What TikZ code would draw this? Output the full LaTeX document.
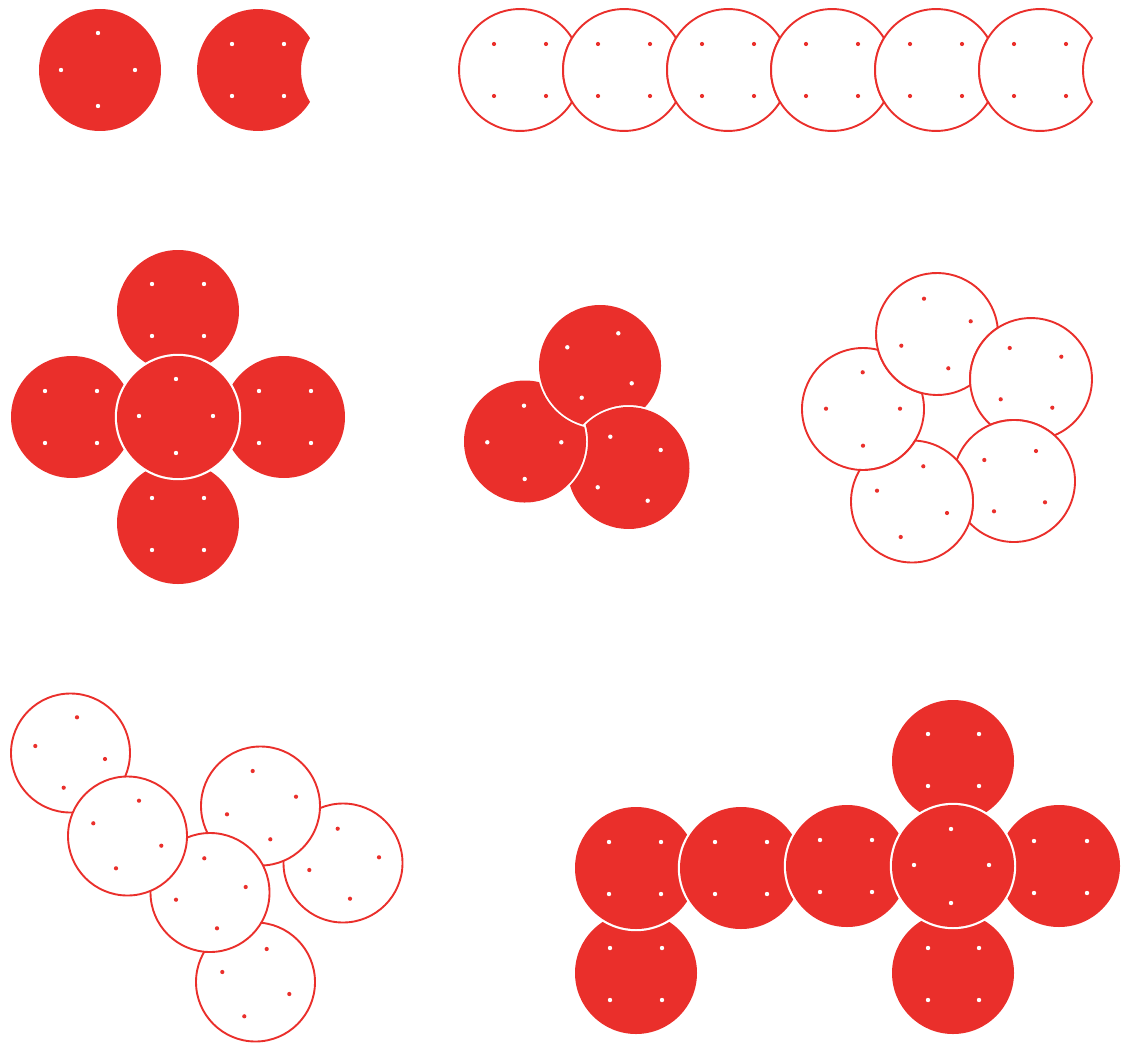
\documentclass[tikz,border=0pt]{standalone}
\definecolor{lego}{RGB}{234,47,43}
\tikzset{
  redp/.style={fill=lego},
  outl/.style={draw=lego, line width=1.9pt, fill=white},
}
% bitten disc: #1 style, (#2,#3) centre, #4 radius, (#5,#6) centre of bite, #7 bite radius
\newcommand{\bitten}[7]{%
  \pgfmathsetmacro{\bdx}{(#5-(#2))/10}%
  \pgfmathsetmacro{\bdy}{(#6-(#3))/10}%
  \pgfmathsetmacro{\bd}{sqrt(\bdx*\bdx+\bdy*\bdy)}%
  \pgfmathsetmacro{\bphi}{atan2(\bdy,\bdx)}%
  \pgfmathsetmacro{\bth}{acos((\bd*\bd+(#4/10)^2-(#7/10)^2)/(2*\bd*#4/10))}%
  \pgfmathsetmacro{\bal}{acos((\bd*\bd+(#7/10)^2-(#4/10)^2)/(2*\bd*#7/10))}%
  \path[#1] (#2,#3) ++(\bphi+\bth:#4)
    arc[start angle=\bphi+\bth, end angle=\bphi+360-\bth, radius=#4]
    arc[start angle=\bphi+180+\bal, end angle=\bphi+180-\bal, radius=#7] -- cycle;
}
\newcommand{\wspots}[1]{\foreach \sx/\sy in {#1} \fill[white] (\sx,\sy) circle[radius=2.2];}
\newcommand{\rspots}[1]{\foreach \sx/\sy in {#1} \fill[lego] (\sx,\sy) circle[radius=2.1];}
\newcommand{\ringdisc}[2]{\fill[white] (#1,#2) circle[radius=63.2]; \fill[lego] (#1,#2) circle[radius=61];}

\begin{document}
\begin{tikzpicture}[x=1pt,y=-1pt]
\useasboundingbox (0,0) rectangle (1129,1046);

% ---- group 1: top left
\fill[lego] (100,70) circle[radius=61];
\wspots{98/33,61/70,135/70,98/106}
\bitten{redp}{258}{70}{61}{362}{70}{61}
\wspots{232/44,284/44,232/96,284/96}

% ---- group 2: top right chain
\foreach \cx in {520,624,728,832,936,1040}{%
  \bitten{outl}{\cx}{70}{61}{\cx+104}{70}{61}
  \rspots{\cx-26/44,\cx+26/44,\cx-26/96,\cx+26/96}
}

% ---- group 3: cross
\foreach \cx/\cy in {178/311,72/417,284/417,178/523} \fill[lego] (\cx,\cy) circle[radius=61];
\ringdisc{178}{417}
\wspots{152/284,204/284,152/336,204/336,
        45/391,97/391,45/443,97/443,
        259/391,311/391,259/443,311/443,
        152/498,204/498,152/550,204/550,
        176/379,139/416,213/416,176/453}

% ---- group 4: pinwheel
\bitten{redp}{525}{441.5}{61}{600}{366}{63}
\bitten{redp}{600}{366}{61}{628.5}{468}{63}
\bitten{redp}{628.5}{468}{61}{525}{441.5}{63}
\wspots{567.3/347.3,618.3/333.3,631.7/383.3,581.7/397.7,
        524/405.7,487.3/442.3,561.3/442.3,524.7/479,
        610.3/436.7,660.7/450,597.7/487.3,647.7/500.7}

% ---- group 5: pentagon ring of outlines
\bitten{outl}{863}{409}{61}{937}{334}{61}
\bitten{outl}{937}{334}{61}{1031}{379}{61}
\bitten{outl}{1031}{379}{61}{1014}{481}{61}
\bitten{outl}{1014}{481}{61}{912}{501.5}{61}
\bitten{outl}{912}{501.5}{61}{863}{409}{61}
\rspots{924/298.7,970.7/321.3,901.3/345.7,948.3/368.3,
        1009.7/348,1061.3/356.7,1000.7/399.3,1052.3/407.7,
        984.3/460,1036/451,994/511.3,1045/502.3,
        877/490.7,923.3/466.3,947/513,900.7/537,
        862.7/372.3,826/408.7,900/408.7,863/445.7}

% ---- group 6: bottom left outlines
\foreach \cx/\cy in {343/863,260.5/806,255.5/982,210/892.5,70.5/753,127.5/836}
  \filldraw[outl] (\cx,\cy) circle[radius=59.5];
\rspots{77/717.3,35.3/746,105/759,63.7/787.7,
        139/800.7,93.3/823.3,161.3/845.7,116/868.3,
        204.3/858.3,245.7/887,176/899.7,217/928.3,
        252.7/771,296/796.7,227/814.3,270.3/839.3,
        337.7/828.7,379/857.3,309.3/870,350/898.7,
        266.7/949,222.3/972,289.3/994,244.3/1016.3}

% ---- group 7: bottom right
\fill[lego] (636,973) circle[radius=61];
\ringdisc{636}{868}
\ringdisc{741}{868}
\ringdisc{847}{866}
\foreach \cx/\cy in {1059/866,953/761,953/973} \fill[lego] (\cx,\cy) circle[radius=61];
\ringdisc{953}{866}
\wspots{609/842,661/842,609/894,661/894,
        610/948,662/948,610/1000,662/1000,
        715/842,767/842,715/894,767/894,
        820/840,872/840,820/892,872/892,
        951/829,914/865,989/865,951/903,
        1034/841,1087/841,1034/893,1087/893,
        928/734,979/734,928/786,979/786,
        928/948,979/948,928/1000,979/1000}
\end{tikzpicture}
\end{document}
